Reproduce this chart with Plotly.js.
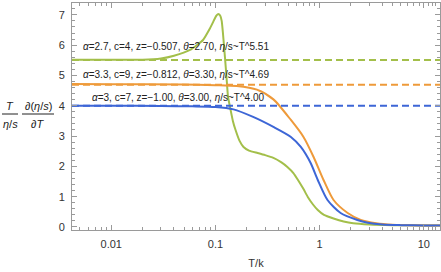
<!DOCTYPE html>
<html><head><meta charset="utf-8">
<script src="https://cdn.plot.ly/plotly-3.0.1.min.js"></script>
<style>html,body{margin:0;padding:0;background:#fff}#c{width:441px;height:272px}</style>
</head><body><div id="c"></div>
<script>
// T/k sample points and curve values
const greenX = [0.0042,0.01,0.02,0.03,0.04,0.057,0.076,0.0885,0.095,0.1,0.103,0.1064,0.111,0.1148,0.118,0.1234,0.128,0.132,0.138,0.147,0.156,0.17,0.186,0.21,0.254,0.3,0.36,0.43,0.49,0.56,0.62,0.7,0.77,0.86,0.96,1.1,1.36,1.7,2.1,3,5,10,14.3];
const greenY = [5.52,5.52,5.52,5.56,5.65,5.84,6.17,6.55,6.76,6.92,6.99,7.03,6.98,6.8,6.4,5.6,4.9,4.3,3.96,3.5,3.2,2.85,2.64,2.52,2.44,2.37,2.28,2.13,1.98,1.78,1.55,1.25,0.99,0.75,0.56,0.4,0.28,0.18,0.12,0.08,0.06,0.05,0.05];
const blueX = [0.0042,0.01,0.03,0.06,0.1,0.149,0.23,0.36,0.53,0.66,0.82,0.96,1.19,1.59,2.3,2.9,4,6,10,14.3];
const blueY = [4.0,4.0,3.99,3.98,3.96,3.88,3.63,3.3,2.97,2.64,2.11,1.55,0.89,0.46,0.23,0.14,0.08,0.06,0.05,0.05];
const orangeX = [0.0042,0.01,0.05,0.1,0.16,0.25,0.36,0.53,0.7,0.875,1.09,1.36,1.86,2.48,3.5,5,10,14.3];
const orangeY = [4.72,4.71,4.70,4.68,4.65,4.53,4.21,3.53,2.97,2.31,1.55,0.89,0.46,0.23,0.12,0.07,0.05,0.05];
// asymptotic exponents (dashed lines)
const exponents = [5.51, 4.69, 4.00];
const labels = [
  "<i>α</i>=2.7, c=4, z=−0.507, <i>θ</i>=2.70, <i>η</i>/s~T^5.51",
  "<i>α</i>=3.3, c=9, z=−0.812, <i>θ</i>=3.30, <i>η</i>/s~T^4.69",
  "<i>α</i>=3, c=7, z=−1.00, <i>θ</i>=3.00, <i>η</i>/s~T^4.00"
];
const xTickVals = [0.01, 0.1, 1, 10];
const xTickText = ["0.01", "0.1", "1", "10"];
const xMinor = [0.005,0.006,0.007,0.008,0.009,0.02,0.03,0.04,0.05,0.06,0.07,0.08,0.09,0.2,0.3,0.4,0.5,0.6,0.7,0.8,0.9,2,3,4,5,6,7,8,9,11,12,13,14];
const xLo = 0.0042, xHi = 14.3;

const green = '#a3bf4a', orange = '#ee9a3a', blue = '#3d66d6';
const colors = [green, orange, blue];
const traces = [
  {x: greenX, y: greenY, mode: 'lines', line: {color: green, width: 2, shape: 'spline', smoothing: 0.5}},
  {x: orangeX, y: orangeY, mode: 'lines', line: {color: orange, width: 2, shape: 'spline', smoothing: 0.7}},
  {x: blueX, y: blueY, mode: 'lines', line: {color: blue, width: 2, shape: 'spline', smoothing: 0.7}}
];
exponents.forEach((e, i) => traces.push({x: [xLo, xHi], y: [e, e], mode: 'lines', line: {color: colors[i], width: 2, dash: '7px,4px'}}));

const axcol = '#9a9a9a';
const font = {family: 'Liberation Sans, Arial, sans-serif', size: 11, color: '#333'};
const labelY = [5.94, 5.02, 4.26];
const labelX = [0.0245, 0.0245, 0.049];
const annotations = labels.map((t, i) => ({
  text: t, xref: 'paper', yref: 'y', x: labelX[i], y: labelY[i], xanchor: 'left', yanchor: 'middle',
  showarrow: false, font: {family: font.family, size: 10, color: '#222'}
}));
// fraction label placed in pixel terms relative to the plot's left edge (72px, plot width 368px)
const px = v => (v - 72) / 368;
const py = v => (230 - v) / 227;
const fr = {family: font.family, size: 11, color: '#222'};
annotations.push(
  {text: '<i>T</i>', xref: 'paper', yref: 'paper', x: px(10), y: py(106), xanchor: 'center', yanchor: 'middle', showarrow: false, font: fr},
  {text: '<i>η</i>/<i>s</i>', xref: 'paper', yref: 'paper', x: px(10), y: py(124), xanchor: 'center', yanchor: 'middle', showarrow: false, font: fr},
  {text: '∂(<i>η</i>/<i>s</i>)', xref: 'paper', yref: 'paper', x: px(38), y: py(106), xanchor: 'center', yanchor: 'middle', showarrow: false, font: fr},
  {text: '∂<i>T</i>', xref: 'paper', yref: 'paper', x: px(37), y: py(124), xanchor: 'center', yanchor: 'middle', showarrow: false, font: fr}
);
const shapes = [
  {type: 'line', xref: 'paper', yref: 'paper', x0: px(2), x1: px(18), y0: py(114), y1: py(114), line: {color: '#222', width: 1}},
  {type: 'line', xref: 'paper', yref: 'paper', x0: px(22), x1: px(54), y0: py(114), y1: py(114), line: {color: '#222', width: 1}}
];

const layout = {
  width: 441, height: 272,
  margin: {l: 72, r: 1, t: 3, b: 42, pad: 0},
  paper_bgcolor: '#fff', plot_bgcolor: '#fff',
  showlegend: false, font: font,
  xaxis: {
    type: 'log', range: [Math.log10(xLo), Math.log10(xHi)],
    tickmode: 'array', tickvals: xTickVals, ticktext: xTickText,
    ticks: 'inside', ticklen: 5, tickcolor: axcol, tickwidth: 1,
    minor: {tickmode: 'array', tickvals: xMinor, ticks: 'inside', ticklen: 3, tickcolor: axcol},
    showline: true, linecolor: axcol, linewidth: 1, mirror: 'allticks',
    showgrid: false, zeroline: false, ticklabelstandoff: 4,
    title: {text: 'T/k', font: {family: font.family, size: 11, color: '#333'}, standoff: 10},
    automargin: false
  },
  yaxis: {
    range: [-0.1, 7.39], tickmode: 'linear', tick0: 0, dtick: 1,
    ticks: 'inside', ticklen: 5, tickcolor: axcol, tickwidth: 1,
    minor: {dtick: 0.2, ticks: 'inside', ticklen: 3, tickcolor: axcol},
    showline: true, linecolor: axcol, linewidth: 1, mirror: 'allticks',
    showgrid: false, zeroline: false, ticklabelstandoff: 4, automargin: false
  },
  annotations: annotations, shapes: shapes
};
Plotly.newPlot('c', traces, layout, {staticPlot: true, displayModeBar: false});
</script></body></html>
